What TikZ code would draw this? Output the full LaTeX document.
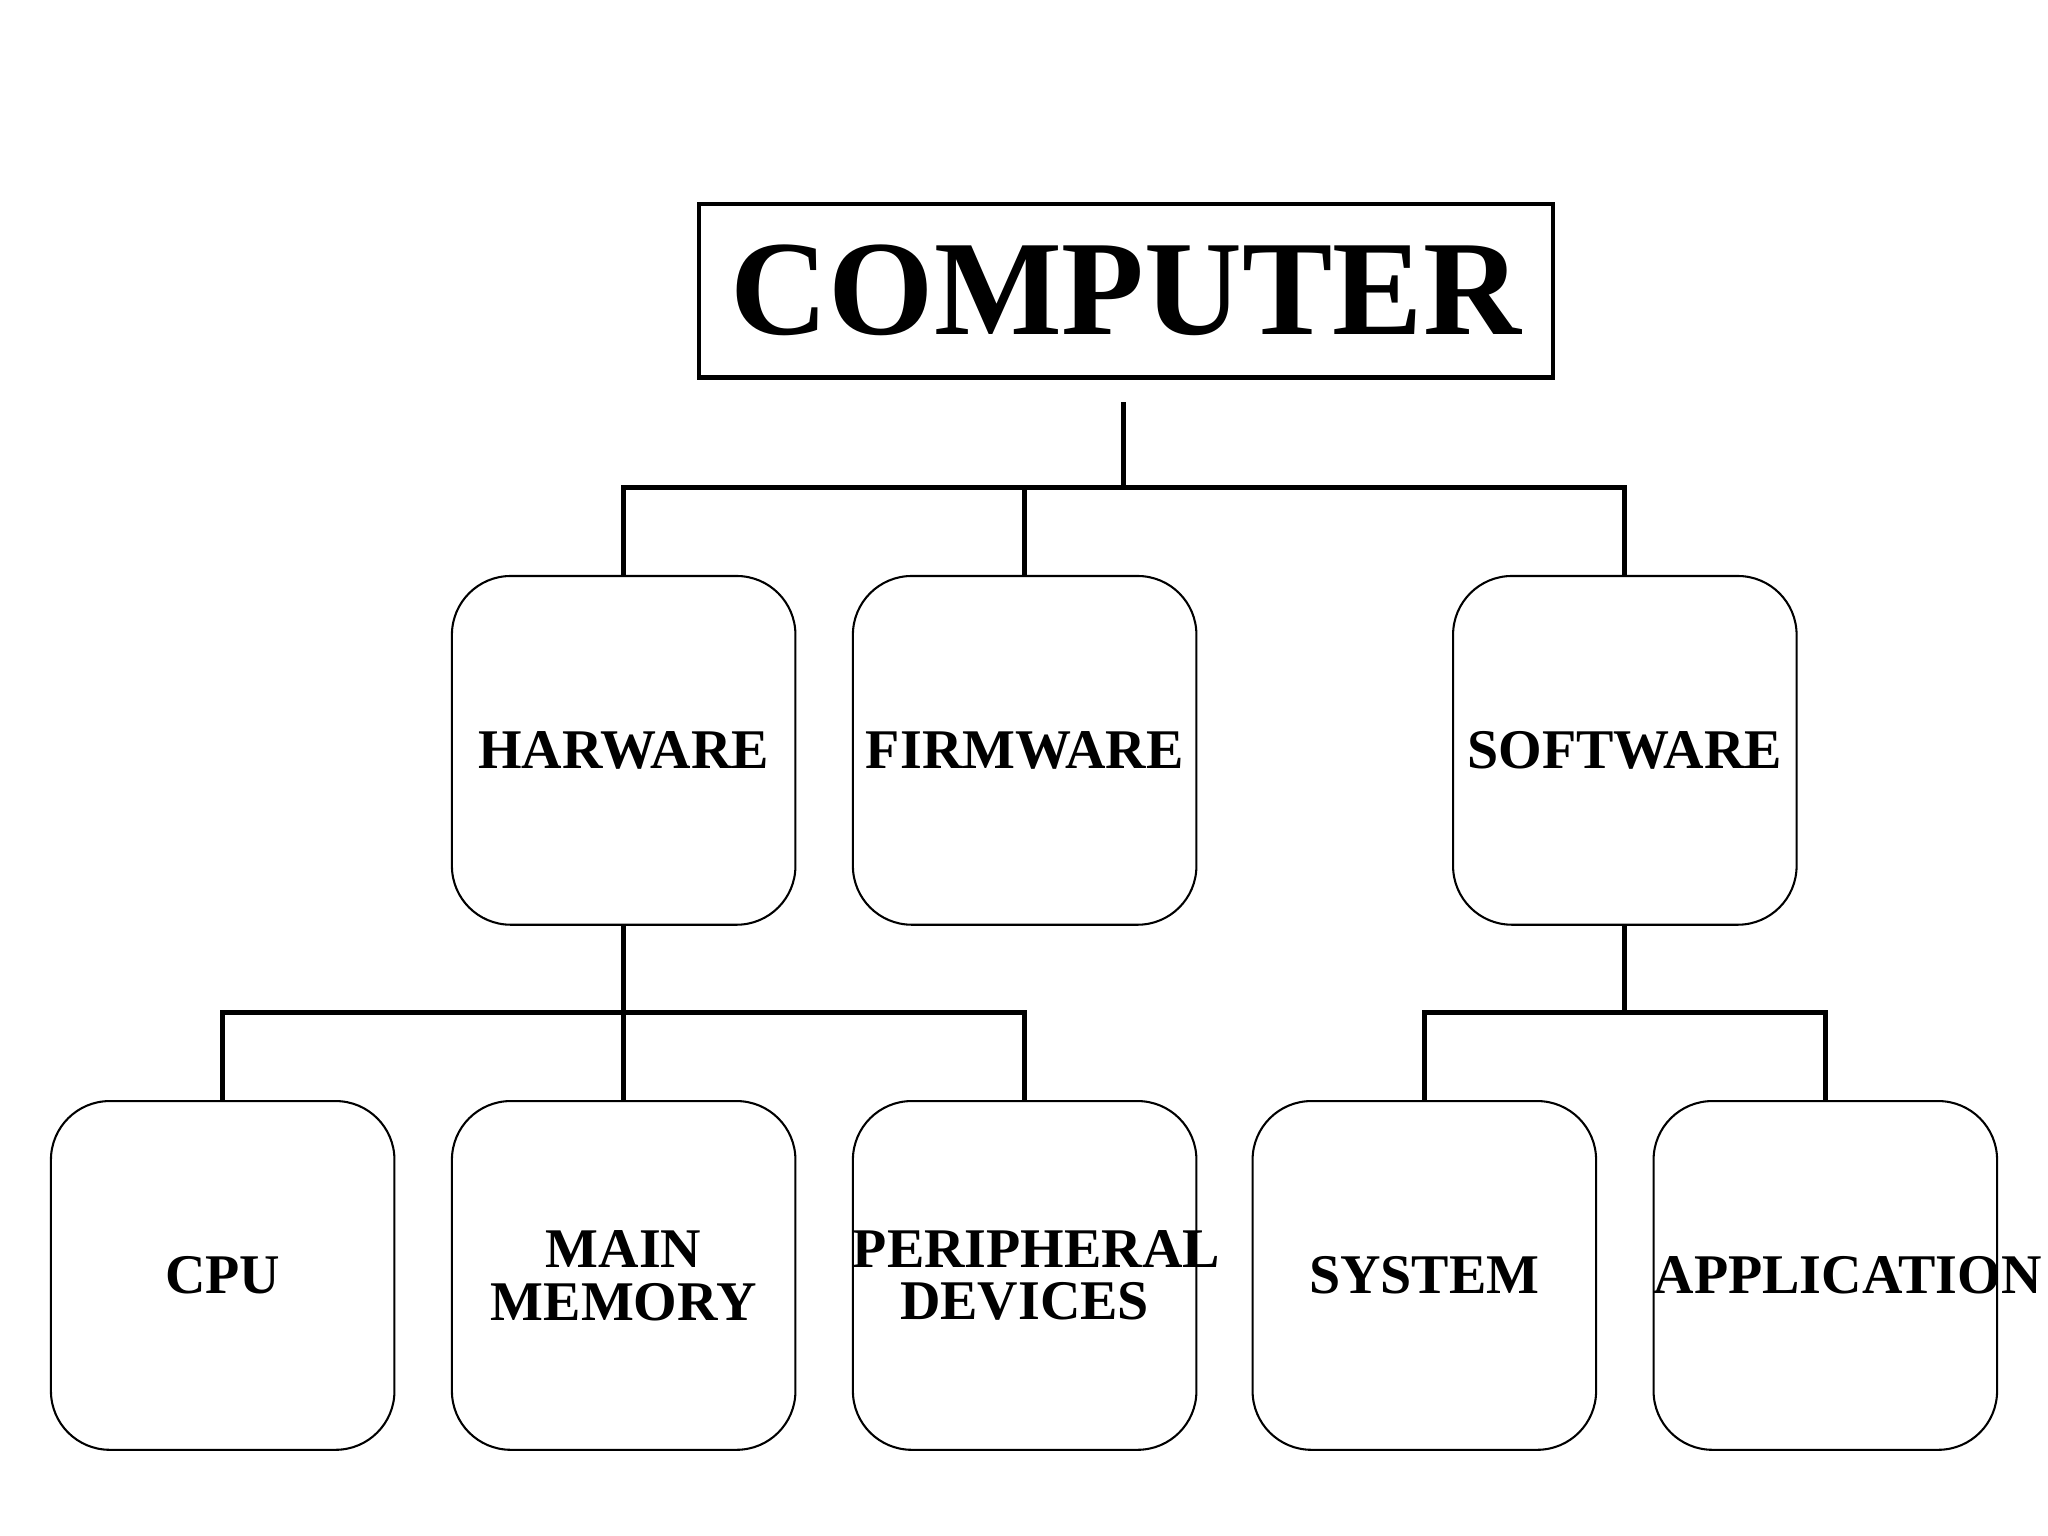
\documentclass[tikz,border=0pt]{standalone}
\usepackage{fontspec}
\setmainfont{Liberation Serif}
\begin{document}
\begin{tikzpicture}[x=1cm,y=1cm,
  rbox/.style={draw,line width=0.45pt,rounded corners=0.45cm,minimum width=2.63cm,text width=2.63cm,minimum height=2.67cm,align=center,font=\fontsize{12.2}{11.5}\selectfont\bfseries,inner sep=0pt},
  conn/.style={line width=1.15pt}]
\useasboundingbox (0,0) rectangle (15.68,-11.76);
\node[draw,line width=0.9pt,minimum width=6.54cm,minimum height=1.33cm,text width=6.54cm,align=center,font=\fontsize{29.5}{30}\selectfont\bfseries,inner sep=0pt] (comp) at (8.62,-2.225) {COMPUTER};
\node[rbox] (hw) at (4.775,-5.745) {HARWARE};
\node[rbox] (fw) at (7.845,-5.745) {FIRMWARE};
\node[rbox] (sw) at (12.44,-5.745) {SOFTWARE};
\node[rbox] (cpu) at (1.705,-9.765) {CPU};
\node[rbox] (mm) at (4.775,-9.765) {MAIN\\MEMORY};
\node[rbox] (pd) at (7.845,-9.765) {PERIPHERAL\\DEVICES};
\node[rbox] (sy) at (10.905,-9.765) {SYSTEM};
\node[rbox] (ap) at (13.975,-9.765) {APPLICATION};
\coordinate (top) at (8.60,-3.08);
\coordinate (bus1) at (8.60,-3.73);
\coordinate (bus2) at (4.775,-7.75);
\coordinate (bus3) at (12.44,-7.75);
\draw[conn] (top) -- (bus1);
\draw[conn] (hw.north) |- (bus1) -| (sw.north);
\draw[conn] (fw.north) -- (fw.north |- bus1);
\draw[conn] (hw.south) -- (mm.north);
\draw[conn] (cpu.north) |- (bus2) -| (pd.north);
\draw[conn] (sw.south) -- (bus3);
\draw[conn] (sy.north) |- (bus3) -| (ap.north);
\end{tikzpicture}
\end{document}
